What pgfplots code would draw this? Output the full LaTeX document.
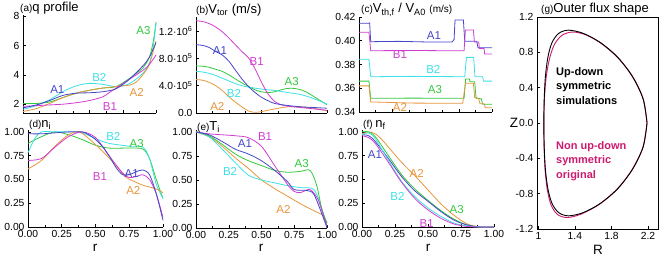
\documentclass[border=0pt]{standalone}
\usepackage{pgfplots}
\pgfplotsset{compat=1.18}
\usepackage{fontspec}
\setmainfont{Liberation Sans}
\definecolor{cA1}{RGB}{70,70,200}
\definecolor{cA2}{RGB}{232,150,60}
\definecolor{cA3}{RGB}{50,200,60}
\definecolor{cB1}{RGB}{210,60,210}
\definecolor{cB2}{RGB}{60,225,230}
\definecolor{crim}{RGB}{205,25,110}
\newcommand{\lbl}{\fontsize{11.5}{12}\selectfont}
\newcommand{\ttl}{\fontsize{13}{14}\selectfont}
\newcommand{\ttls}{\fontsize{10}{11}\selectfont}
\newcommand{\tkf}{\fontsize{10.3}{11}\selectfont}
\pgfplotsset{
  panel/.style={scale only axis, axis lines*=left, tick align=inside,
    xmin=0, xmax=1, xtick={0,0.25,0.5,0.75,1}, minor x tick num=1,
    major tick length=3pt, minor tick length=2pt,
    tick style={black, line width=0.5pt},
    axis line style={black, line width=0.6pt},
    every tick label/.append style={font=\tkf},
    /pgf/number format/assume math mode=true,
    every axis plot/.append style={line width=0.8pt},
    clip=false},
  toprow/.style={xticklabels={}},
  botrow/.style={ymin=0, ymax=1.02, ytick={0,0.25,0.5,0.75,1},
    xticklabel style={/pgf/number format/fixed, /pgf/number format/fixed zerofill, /pgf/number format/precision=2},
    yticklabel style={/pgf/number format/fixed, /pgf/number format/fixed zerofill, /pgf/number format/precision=2}},
}
\begin{document}
\begin{tikzpicture}[x=1pt,y=1pt]
\useasboundingbox (0,0) rectangle (664,259);
% (a) q profile
\begin{axis}[panel, toprow, at={(23pt,146pt)}, anchor=south west, width=133pt, height=98.3pt,
  ymin=1.4, ymax=8.1, ytick={2,4,6,8}]
\addplot[cA3, smooth] coordinates {(0,2.05)(0.1,2.05)(0.2,2.15)(0.3,2.45)(0.4,2.75)(0.5,2.95)(0.6,3.1)(0.7,3.2)(0.8,3.75)(0.85,4.1)(0.9,4.45)(0.95,5.2)(0.98,6.3)(1,7.6)};
\addplot[cB2, smooth] coordinates {(0,1.65)(0.1,1.9)(0.2,2.3)(0.3,2.85)(0.4,3.25)(0.5,3.42)(0.6,3.35)(0.7,3.2)(0.8,3.4)(0.9,4.1)(0.95,4.8)(0.98,6.0)(1,7.5)};
\addplot[cA2, smooth] coordinates {(0,1.5)(0.1,1.7)(0.2,2.05)(0.3,2.45)(0.4,2.75)(0.5,2.95)(0.6,3.1)(0.7,3.2)(0.8,3.3)(0.85,3.5)(0.9,4.0)(0.95,4.7)(1,6.3)};
\addplot[cB1, smooth] coordinates {(0,1.85)(0.1,1.9)(0.2,1.95)(0.3,2.0)(0.4,2.1)(0.5,2.25)(0.6,2.5)(0.65,2.8)(0.7,3.1)(0.8,3.7)(0.9,4.3)(0.95,4.7)(1,5.35)};
\addplot[cA1, smooth] coordinates {(0,1.75)(0.1,1.95)(0.2,2.25)(0.3,2.6)(0.4,2.75)(0.5,2.78)(0.6,2.85)(0.7,3.05)(0.8,3.7)(0.9,4.6)(0.95,5.2)(1,6.2)};
\node[text=cA1, font=\lbl] at (axis cs:0.258,3.0) {A1};
\node[text=cB2, font=\lbl] at (axis cs:0.574,3.82) {B2};
\node[text=cA2, font=\lbl] at (axis cs:0.855,2.77) {A2};
\node[text=cB1, font=\lbl] at (axis cs:0.654,1.86) {B1};
\node[text=cA3, font=\lbl] at (axis cs:0.905,7.0) {A3};
\end{axis}
% (b) Vtor
\begin{axis}[panel, toprow, at={(196pt,146pt)}, anchor=south west, width=131pt, height=95.6pt,
  ymin=0, ymax=1400000, ytick={0,400000,800000,1200000}, scaled y ticks=false,
  yticklabels={0.0, 4.0·10\textsuperscript{5}, 8.0·10\textsuperscript{5}, 1.2·10\textsuperscript{6}}]
\addplot[cA3, smooth] coordinates {(0,690000)(0.05,685000)(0.1,670000)(0.15,640000)(0.2,610000)(0.25,560000)(0.3,500000)(0.35,440000)(0.4,390000)(0.45,340000)(0.5,310000)(0.55,300000)(0.6,310000)(0.65,340000)(0.7,360000)(0.75,360000)(0.8,340000)(0.85,300000)(0.9,240000)(0.95,180000)(1,120000)};
\addplot[cB2, smooth] coordinates {(0,610000)(0.05,600000)(0.1,580000)(0.15,550000)(0.2,510000)(0.25,470000)(0.3,430000)(0.35,400000)(0.4,380000)(0.5,350000)(0.6,330000)(0.7,300000)(0.8,270000)(0.9,210000)(1,130000)};
\addplot[cA2, smooth] coordinates {(0,490000)(0.05,480000)(0.1,450000)(0.15,400000)(0.2,330000)(0.25,240000)(0.3,160000)(0.35,90000)(0.4,30000)(0.45,10000)(0.5,20000)(0.55,40000)(0.6,60000)(0.7,90000)(0.8,90000)(0.9,70000)(1,30000)};
\addplot[cB1, smooth] coordinates {(0,1350000)(0.05,1340000)(0.1,1310000)(0.15,1260000)(0.2,1190000)(0.25,1100000)(0.3,1000000)(0.35,900000)(0.4,810000)(0.45,650000)(0.5,450000)(0.55,280000)(0.6,170000)(0.65,120000)(0.7,100000)(0.8,80000)(0.9,60000)(1,40000)};
\addplot[cA1, smooth] coordinates {(0,1000000)(0.05,990000)(0.1,960000)(0.15,900000)(0.2,850000)(0.25,760000)(0.3,630000)(0.35,500000)(0.4,390000)(0.45,300000)(0.5,230000)(0.55,180000)(0.6,140000)(0.7,110000)(0.8,90000)(0.9,80000)(1,70000)};
\node[text=cA1, font=\lbl] at (axis cs:0.183,920000) {A1};
\node[text=cB1, font=\lbl] at (axis cs:0.463,750000) {B1};
\node[text=cA3, font=\lbl] at (axis cs:0.73,460000) {A3};
\node[text=cB2, font=\lbl] at (axis cs:0.29,280000) {B2};
\node[text=cA2, font=\lbl] at (axis cs:0.163,90000) {A2};
\end{axis}
% (c) Vth,f / VA0
\begin{axis}[panel, toprow, at={(359pt,147pt)}, anchor=south west, width=133pt, height=95pt,
  ymin=0.34, ymax=0.42, ytick={0.34,0.36,0.38,0.40,0.42},
  yticklabel style={/pgf/number format/fixed, /pgf/number format/fixed zerofill, /pgf/number format/precision=2}]
\addplot[cA1, sharp plot] coordinates {(0,0.4147)(0.072,0.4147)(0.08,0.4150)(0.088,0.3992)(0.3,0.3995)(0.5,0.3990)(0.7,0.3990)(0.715,0.4010)(0.722,0.4175)(0.785,0.4175)(0.795,0.3995)(0.885,0.3995)(0.895,0.3941)(1,0.3941)};
\addplot[cB1, sharp plot] coordinates {(0,0.4071)(0.075,0.4071)(0.088,0.3916)(0.4,0.3918)(0.79,0.3915)(0.80,0.409)(0.86,0.409)(0.868,0.399)(0.90,0.399)(0.905,0.3934)(0.94,0.3934)(0.945,0.3888)(1,0.3888)};
\addplot[cB2, sharp plot] coordinates {(0,0.3844)(0.075,0.3844)(0.088,0.3697)(0.4,0.3700)(0.795,0.3697)(0.808,0.386)(0.862,0.386)(0.872,0.3697)(0.93,0.3697)(0.936,0.366)(1,0.366)};
\addplot[cA3, sharp plot] coordinates {(0,0.366)(0.075,0.366)(0.088,0.3515)(0.4,0.3517)(0.79,0.3515)(0.802,0.3678)(0.83,0.3678)(0.835,0.3655)(0.87,0.3655)(0.88,0.352)(0.92,0.351)(0.93,0.3465)(1,0.3465)};
\addplot[cA2, sharp plot] coordinates {(0,0.362)(0.075,0.362)(0.088,0.3485)(0.4,0.3475)(0.78,0.3473)(0.80,0.3642)(0.86,0.3642)(0.87,0.352)(0.90,0.351)(0.91,0.347)(0.94,0.347)(0.95,0.3435)(1,0.3435)};
\node[text=cA1, font=\lbl] at (axis cs:0.564,0.404) {A1};
\node[text=cB1, font=\lbl] at (axis cs:0.308,0.388) {B1};
\node[text=cB2, font=\lbl] at (axis cs:0.559,0.3754) {B2};
\node[text=cA3, font=\lbl] at (axis cs:0.571,0.3585) {A3};
\node[text=cA2, font=\lbl] at (axis cs:0.308,0.3440) {A2};
\end{axis}
% (d) ni
\begin{axis}[panel, botrow, at={(28pt,32pt)}, anchor=south west, width=135pt, height=97pt]
\addplot[cA3, smooth] coordinates {(0,0.88)(0.1,0.95)(0.2,1.0)(0.3,0.97)(0.4,0.92)(0.5,0.86)(0.6,0.83)(0.75,0.83)(0.85,0.82)(0.9,0.72)(0.95,0.5)(1,0.3)};
\addplot[cB2, smooth] coordinates {(0,0.78)(0.05,0.93)(0.1,1.0)(0.2,1.0)(0.3,1.0)(0.4,0.99)(0.5,0.93)(0.6,0.88)(0.75,0.85)(0.85,0.84)(0.9,0.72)(0.95,0.45)(1,0.3)};
\addplot[cA2, smooth] coordinates {(0,0.61)(0.1,0.7)(0.2,0.85)(0.3,0.97)(0.38,1.0)(0.45,0.93)(0.55,0.8)(0.65,0.65)(0.72,0.53)(0.8,0.47)(0.85,0.44)(0.9,0.42)(0.95,0.4)(1,0.36)};
\addplot[cB1, smooth] coordinates {(0,0.7)(0.1,0.72)(0.2,0.84)(0.3,0.95)(0.4,1.0)(0.5,0.94)(0.6,0.75)(0.7,0.57)(0.75,0.52)(0.8,0.53)(0.85,0.55)(0.9,0.5)(0.95,0.35)(1,0.1)};
\addplot[cA1, smooth] coordinates {(0,0.98)(0.1,0.98)(0.2,0.99)(0.3,1.0)(0.4,1.0)(0.45,0.97)(0.5,0.92)(0.55,0.85)(0.6,0.75)(0.65,0.63)(0.7,0.55)(0.75,0.55)(0.8,0.58)(0.85,0.6)(0.9,0.55)(0.95,0.35)(1,0.07)};
\node[text=cB2, font=\lbl] at (axis cs:0.632,0.95) {B2};
\node[text=cA3, font=\lbl] at (axis cs:0.805,0.88) {A3};
\node[text=cA1, font=\lbl] at (axis cs:0.768,0.565) {A1};
\node[text=cB1, font=\lbl] at (axis cs:0.533,0.53) {B1};
\node[text=cA2, font=\lbl] at (axis cs:0.78,0.38) {A2};
\end{axis}
% (e) Ti
\begin{axis}[panel, botrow, at={(196pt,31pt)}, anchor=south west, width=131pt, height=98pt]
\addplot[cA2, smooth] coordinates {(0,1.0)(0.1,0.95)(0.2,0.85)(0.3,0.73)(0.4,0.62)(0.5,0.5)(0.6,0.41)(0.7,0.33)(0.8,0.25)(0.9,0.18)(0.97,0.13)(1,0.05)};
\addplot[cB2, smooth] coordinates {(0,1.0)(0.1,0.95)(0.2,0.82)(0.3,0.68)(0.4,0.55)(0.5,0.5)(0.6,0.47)(0.7,0.44)(0.8,0.42)(0.9,0.4)(0.96,0.2)(1,0.02)};
\addplot[cA3, smooth] coordinates {(0,1.0)(0.1,0.96)(0.2,0.87)(0.3,0.77)(0.4,0.7)(0.5,0.65)(0.6,0.6)(0.7,0.58)(0.8,0.59)(0.87,0.6)(0.92,0.45)(0.96,0.2)(1,0.05)};
\addplot[cB1, smooth] coordinates {(0,1.0)(0.1,0.98)(0.2,0.97)(0.3,0.96)(0.4,0.94)(0.5,0.85)(0.6,0.65)(0.7,0.45)(0.75,0.38)(0.8,0.37)(0.87,0.4)(0.93,0.3)(0.98,0.1)(1,0.02)};
\addplot[cA1, smooth] coordinates {(0,1.0)(0.1,0.97)(0.2,0.9)(0.3,0.82)(0.4,0.77)(0.5,0.7)(0.6,0.6)(0.7,0.48)(0.75,0.4)(0.85,0.39)(0.9,0.35)(0.96,0.15)(1,0.0)};
\node[text=cA1, font=\lbl] at (axis cs:0.374,0.88) {A1};
\node[text=cB1, font=\lbl] at (axis cs:0.527,0.95) {B1};
\node[text=cA3, font=\lbl] at (axis cs:0.807,0.67) {A3};
\node[text=cB2, font=\lbl] at (axis cs:0.26,0.59) {B2};
\node[text=cA2, font=\lbl] at (axis cs:0.667,0.195) {A2};
\end{axis}
% (f) nf
\begin{axis}[panel, botrow, at={(362pt,32pt)}, anchor=south west, width=132pt, height=97pt]
\addplot[cA2, smooth] coordinates {(0,0.98)(0.05,1.0)(0.1,0.98)(0.15,0.92)(0.2,0.84)(0.3,0.68)(0.4,0.54)(0.5,0.39)(0.6,0.24)(0.7,0.12)(0.8,0.03)(0.9,0.0)(1,0)};
\addplot[cA3, smooth] coordinates {(0,1.0)(0.05,1.0)(0.1,0.95)(0.2,0.75)(0.3,0.55)(0.4,0.4)(0.5,0.28)(0.6,0.17)(0.7,0.08)(0.8,0.02)(0.9,0)(1,0)};
\addplot[cA1, smooth] coordinates {(0,0.97)(0.05,0.96)(0.1,0.9)(0.2,0.72)(0.3,0.53)(0.4,0.38)(0.5,0.27)(0.6,0.16)(0.7,0.07)(0.8,0.02)(0.9,0)(1,0)};
\addplot[cB2, smooth] coordinates {(0,0.97)(0.05,0.99)(0.1,0.93)(0.2,0.7)(0.3,0.48)(0.4,0.32)(0.5,0.2)(0.6,0.11)(0.7,0.04)(0.8,0.01)(0.9,0)(1,0)};
\addplot[cB1, smooth] coordinates {(0,0.96)(0.05,0.94)(0.1,0.88)(0.2,0.68)(0.3,0.47)(0.4,0.3)(0.5,0.18)(0.6,0.09)(0.7,0.03)(0.8,0.005)(0.9,0)(1,0)};
\node[text=cA1, font=\lbl] at (axis cs:0.098,0.76) {A1};
\node[text=cA2, font=\lbl] at (axis cs:0.414,0.565) {A2};
\node[text=cB2, font=\lbl] at (axis cs:0.268,0.32) {B2};
\node[text=cA3, font=\lbl] at (axis cs:0.717,0.186) {A3};
\node[text=cB1, font=\lbl] at (axis cs:0.49,0.04) {B1};
\end{axis}
% (g) outer flux shape
\begin{axis}[scale only axis, at={(537pt,30pt)}, anchor=south west, width=121pt, height=212pt,
  xmin=0.985, xmax=2.31, ymin=-1.2, ymax=1.2,
  xtick={1,1.4,1.8,2.2}, ytick={-1.2,-0.8,-0.4,0,0.4,0.8,1.2},
  xtick pos=bottom, ytick pos=left, tick align=inside,
  major tick length=3pt, tick style={black, line width=0.5pt},
  axis line style={black, line width=0.6pt},
  every tick label/.append style={font=\tkf},
  /pgf/number format/assume math mode=true,
  yticklabel style={/pgf/number format/fixed, /pgf/number format/fixed zerofill, /pgf/number format/precision=1},
  xticklabel style={/pgf/number format/fixed, /pgf/number format/precision=1}]
\addplot[crim, line width=0.9pt, smooth] coordinates {(2.19,0)(2.15,0.267)(2.039,0.515)(1.88,0.728)(1.70,0.892)(1.528,0.995)(1.379,1.03)(1.262,0.995)(1.177,0.892)(1.122,0.728)(1.085,0.515)(1.066,0.267)(1.06,0)(1.063,-0.277)(1.074,-0.535)(1.098,-0.757)(1.139,-0.927)(1.207,-1.034)(1.311,-1.07)(1.46,-1.035)(1.66,-0.925)(1.86,-0.75)(2.025,-0.53)(2.145,-0.275)(2.19,0)};
\addplot[black, line width=0.9pt, smooth] coordinates {(2.19,0)(2.147,0.272)(2.03,0.525)(1.87,0.743)(1.68,0.91)(1.49,1.015)(1.33,1.051)(1.223,1.015)(1.149,0.91)(1.104,0.743)(1.077,0.525)(1.064,0.272)(1.06,0)(1.064,-0.272)(1.077,-0.525)(1.104,-0.743)(1.149,-0.91)(1.223,-1.015)(1.33,-1.051)(1.49,-1.015)(1.68,-0.91)(1.87,-0.743)(2.03,-0.525)(2.147,-0.272)(2.19,0)};
\end{axis}
% titles and labels
\node[anchor=west, inner sep=0pt] at (20,251) {\ttls(a)\ttl q profile};
\node[anchor=west, inner sep=0pt] at (196,249) {\ttls(b)\ttl V\textsubscript{tor} (m/s)};
\node[anchor=west, inner sep=0pt] at (361,249) {\ttls(c)\ttl V\textsubscript{th,f} / V\textsubscript{A0} \ttls(m/s)};
\node[anchor=west, inner sep=0pt] at (29,134) {\ttls(d)\ttl n\textsubscript{i}};
\node[anchor=west, inner sep=0pt] at (197,132) {\ttls(e)\ttl T\textsubscript{i}};
\node[anchor=west, inner sep=0pt] at (363,134) {\ttls(f) \ttl n\textsubscript{f}};
\node[anchor=west, inner sep=0pt] at (541,250) {\ttls(g)\ttl Outer flux shape};
\node[font=\fontsize{13.5}{14}\selectfont] at (95,11) {r};
\node[font=\fontsize{13.5}{14}\selectfont] at (261,11) {r};
\node[font=\fontsize{13.5}{14}\selectfont] at (428,11) {r};
\node[font=\fontsize{13.5}{14}\selectfont] at (598,9) {R};
\node[font=\fontsize{13.5}{14}\selectfont] at (514,136) {Z};
\node[anchor=west, align=left, font=\bfseries\fontsize{11}{14.3}\selectfont, inner sep=0pt] at (556,173) {Up-down\\symmetric\\simulations};
\node[anchor=west, align=left, font=\bfseries\fontsize{11}{14.3}\selectfont, text=crim, inner sep=0pt] at (556,98) {Non up-down\\symmetric\\original};
\end{tikzpicture}
\end{document}
